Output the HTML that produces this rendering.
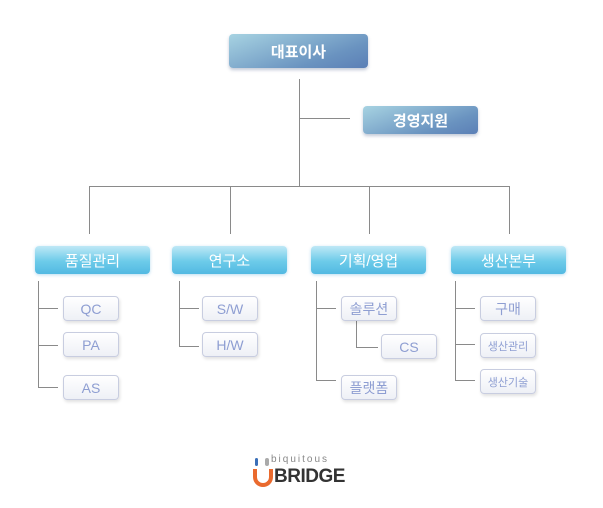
<!DOCTYPE html>
<html><head><meta charset="utf-8"><style>
body{margin:0;width:603px;height:508px;background:#fff;position:relative;overflow:hidden;font-family:"Liberation Sans","Noto Sans CJK KR",sans-serif}
.a{position:absolute}
.l{position:absolute;background:#8a8a8a}
.top{position:absolute;border-radius:4px;color:#fff;font-weight:bold;font-size:15px;display:flex;align-items:center;justify-content:center;background:linear-gradient(160deg,#a7d3e2,#6a93c0 70%,#5b7fb6);box-shadow:0 2px 3px rgba(80,100,140,.35)}
.dep{position:absolute;width:115px;height:28px;border-radius:4px;color:#fff;font-size:15px;display:flex;align-items:center;justify-content:center;background:linear-gradient(#bfe8f6,#6ccbe9 55%,#52b9e2);box-shadow:0 1px 3px rgba(80,170,220,.4)}
.s{position:absolute;width:54px;height:23px;border:1px solid #c8cde0;border-radius:4px;color:#8e9ed2;font-size:14px;display:flex;align-items:center;justify-content:center;background:linear-gradient(#fff,#eef0f6);box-shadow:1px 2px 3px rgba(0,0,0,.12)}
.sm{font-size:11px}
</style></head><body>
<div class="top" style="left:229px;top:34px;width:139px;height:34px">대표이사</div>
<div class="top" style="left:363px;top:106px;width:115px;height:28px">경영지원</div>
<div class="l" style="left:299px;top:79px;width:1px;height:107px"></div>
<div class="l" style="left:299px;top:118px;width:51px;height:1px"></div>
<div class="l" style="left:89px;top:186px;width:421px;height:1px"></div>
<div class="l" style="left:89px;top:186px;width:1px;height:48px"></div>
<div class="l" style="left:230px;top:186px;width:1px;height:48px"></div>
<div class="l" style="left:369px;top:186px;width:1px;height:48px"></div>
<div class="l" style="left:509px;top:186px;width:1px;height:48px"></div>
<div class="dep" style="left:35px;top:246px">품질관리</div>
<div class="dep" style="left:172px;top:246px">연구소</div>
<div class="dep" style="left:311px;top:246px">기획/영업</div>
<div class="dep" style="left:451px;top:246px">생산본부</div>
<!-- col1 -->
<div class="l" style="left:38px;top:281px;width:1px;height:106px"></div>
<div class="l" style="left:38px;top:308px;width:20px;height:1px"></div>
<div class="l" style="left:38px;top:345px;width:20px;height:1px"></div>
<div class="l" style="left:38px;top:387px;width:20px;height:1px"></div>
<div class="s" style="left:63px;top:296px">QC</div>
<div class="s" style="left:63px;top:332px">PA</div>
<div class="s" style="left:63px;top:375px">AS</div>
<!-- col2 -->
<div class="l" style="left:179px;top:281px;width:1px;height:66px"></div>
<div class="l" style="left:179px;top:308px;width:20px;height:1px"></div>
<div class="l" style="left:179px;top:346px;width:20px;height:1px"></div>
<div class="s" style="left:202px;top:296px">S/W</div>
<div class="s" style="left:202px;top:332px">H/W</div>
<!-- col3 -->
<div class="l" style="left:316px;top:281px;width:1px;height:100px"></div>
<div class="l" style="left:316px;top:308px;width:20px;height:1px"></div>
<div class="l" style="left:316px;top:380px;width:20px;height:1px"></div>
<div class="l" style="left:356px;top:320px;width:1px;height:28px"></div>
<div class="l" style="left:356px;top:347px;width:22px;height:1px"></div>
<div class="s" style="left:341px;top:296px">솔루션</div>
<div class="s" style="left:381px;top:334px">CS</div>
<div class="s" style="left:341px;top:375px">플랫폼</div>
<!-- col4 -->
<div class="l" style="left:455px;top:281px;width:1px;height:100px"></div>
<div class="l" style="left:455px;top:308px;width:20px;height:1px"></div>
<div class="l" style="left:455px;top:344px;width:20px;height:1px"></div>
<div class="l" style="left:455px;top:380px;width:20px;height:1px"></div>
<div class="s" style="left:480px;top:296px">구매</div>
<div class="s sm" style="left:480px;top:333px">생산관리</div>
<div class="s sm" style="left:480px;top:369px">생산기술</div>
<!-- logo -->
<div class="a" style="left:255px;top:458px;width:3px;height:8px;background:#3a6fb8;border-radius:2px"></div>
<div class="a" style="left:265px;top:458px;width:4px;height:8px;background:#aaa;border-radius:2px"></div>
<div class="a" style="left:271px;top:454px;font-size:10px;letter-spacing:2px;color:#888">biquitous</div>
<div class="a" style="left:253px;top:469px;width:12px;height:14px;border:4px solid #ea6a2e;border-top:none;border-radius:0 0 10px 10px"></div>
<div class="a" style="left:274px;top:466px;font-size:19px;font-weight:bold;color:#333;letter-spacing:-0.5px">BRIDGE</div>
</body></html>
